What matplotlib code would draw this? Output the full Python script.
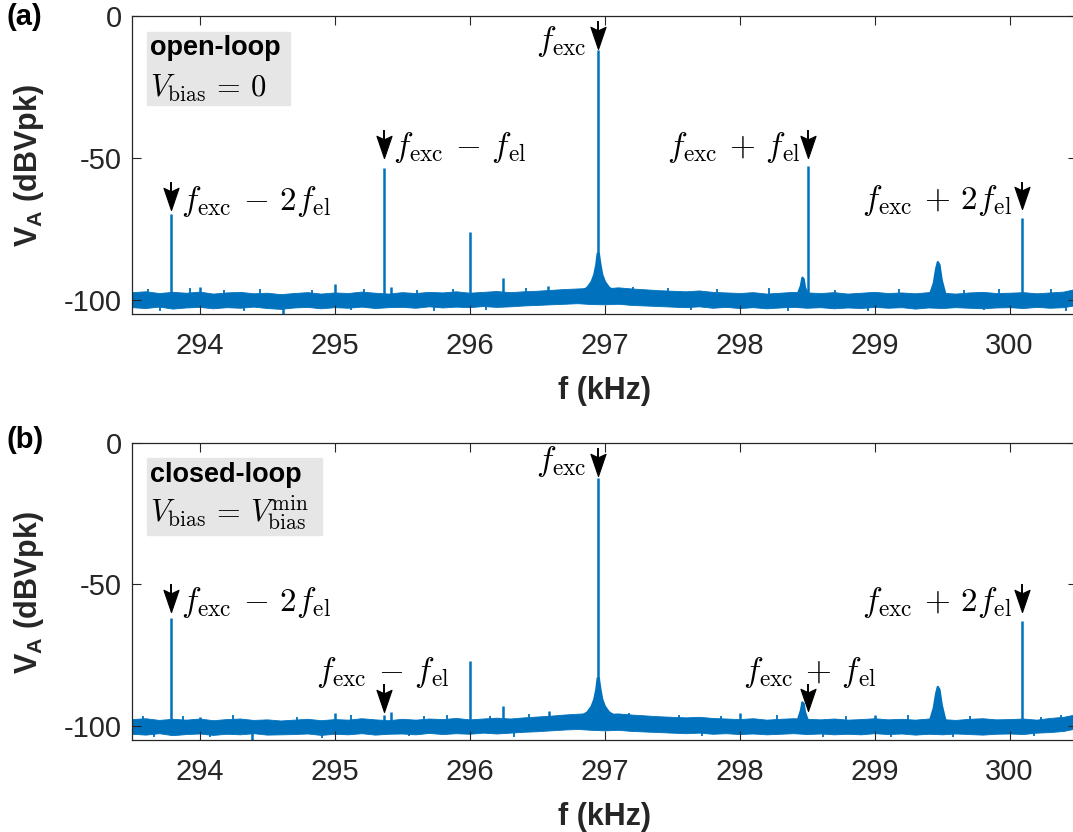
import numpy as np
import matplotlib
matplotlib.use("Agg")
from matplotlib import pyplot as plt
from matplotlib.path import Path
from matplotlib.patches import Rectangle

plt.rcParams['font.family'] = ['Liberation Sans', 'DejaVu Sans']
plt.rcParams['axes.unicode_minus'] = False
plt.rcParams['mathtext.fontset'] = 'custom'
plt.rcParams['mathtext.rm'] = 'Liberation Sans:bold'
plt.rcParams['mathtext.it'] = 'Liberation Sans:bold'
plt.rcParams['mathtext.bf'] = 'Liberation Sans:bold'

BLUE = '#0072BD'
DARK = '#262626'

# noise floor envelope, sampled every 0.1 kHz from 293.5 to 300.5
grid_f = np.round(np.arange(293.5, 300.51, 0.1), 1)

up_a = [-97.3, -97.0, -97.6, -97.2, -97.5, -97.1, -97.8, -97.4, -97.2, -97.7,
        -97.5, -98.0, -97.6, -97.3, -97.8, -97.4, -97.6, -97.1, -97.5, -97.8,
        -97.3, -97.6, -97.2, -97.4, -97.0, -97.5, -97.2, -96.9, -97.3, -97.0,
        -96.8, -96.5, -96.2, -96.0, -95.8, -96.0, -95.6, -96.0, -96.3, -96.6,
        -96.8, -97.0, -96.7, -97.2, -97.4, -97.6, -97.3, -97.8, -97.5, -97.2,
        -97.4, -97.6, -97.3, -97.8, -97.5, -97.2, -97.6, -97.4, -97.7, -97.3,
        -97.5, -97.8, -97.4, -97.2, -97.6, -97.5, -97.3, -97.7, -97.4, -97.1, -96.0]
lo_a = [-102.6, -102.9, -102.4, -103.1, -102.7, -102.5, -103.0, -102.6, -102.8, -102.4,
        -102.9, -103.2, -102.7, -102.5, -103.0, -102.6, -102.8, -102.4, -102.9, -102.6,
        -102.5, -102.8, -102.3, -102.7, -102.4, -102.6, -102.2, -102.5, -102.3, -102.0,
        -101.8, -101.6, -101.4, -101.2, -101.5, -101.6, -101.4, -101.8, -102.0, -102.2,
        -102.4, -102.6, -102.3, -102.8, -102.5, -102.9, -102.6, -103.0, -102.7, -102.5,
        -102.8, -102.6, -103.0, -102.7, -102.9, -102.5, -102.8, -102.6, -103.1, -102.7,
        -102.9, -102.6, -102.8, -103.0, -102.7, -102.6, -102.9, -102.5, -102.8, -102.6, -101.8]

up_b = [-97.6, -97.3, -97.9, -97.5, -97.8, -97.4, -98.0, -97.6, -97.4, -97.9,
        -97.7, -98.1, -97.8, -97.5, -98.0, -97.6, -97.8, -97.3, -97.7, -98.0,
        -97.5, -97.8, -97.4, -97.6, -97.2, -97.7, -97.4, -97.1, -97.4, -97.0,
        -96.7, -96.4, -96.0, -95.7, -95.5, -95.8, -95.6, -96.0, -96.3, -96.6,
        -96.8, -97.0, -96.8, -97.2, -97.4, -97.6, -97.3, -97.8, -97.5, -97.3,
        -97.5, -97.7, -97.4, -97.8, -97.6, -97.3, -97.7, -97.5, -97.8, -97.4,
        -97.6, -97.9, -97.5, -97.3, -97.7, -97.6, -97.4, -97.8, -97.2, -96.8, -95.8]
lo_b = [-102.8, -103.1, -102.6, -103.3, -102.9, -102.7, -103.2, -102.8, -103.0, -102.6,
        -103.1, -103.0, -102.9, -102.7, -103.2, -102.8, -103.0, -102.6, -103.1, -102.8,
        -102.7, -103.0, -102.5, -102.9, -102.6, -102.8, -102.4, -102.7, -102.4, -102.1,
        -101.9, -101.6, -101.3, -101.1, -101.4, -101.6, -101.4, -101.8, -102.0, -102.2,
        -102.4, -102.6, -102.4, -102.8, -102.6, -102.9, -102.7, -103.0, -102.8, -102.6,
        -102.9, -102.7, -103.0, -102.8, -103.0, -102.6, -102.9, -102.7, -103.1, -102.8,
        -103.0, -102.7, -102.9, -103.1, -102.8, -102.7, -102.9, -102.4, -102.2, -101.8, -100.8]

# discrete lines (kHz, dBVpk); floor level -100
spk_a_f = [293.79, 294.00, 294.62, 295.00, 295.37, 295.42, 296.00, 296.25, 296.58, 296.95, 298.51, 300.09]
spk_a_db = [-69.8, -95.5, -105.0, -94.5, -53.6, -95.5, -76.0, -92.3, -95.0, -12.0, -53.0, -71.0]
spk_b_f = [293.79, 294.00, 294.39, 295.00, 295.37, 295.42, 296.00, 296.25, 296.59, 296.95, 298.00, 299.00, 300.09]
spk_b_db = [-61.8, -97.0, -105.0, -95.5, -96.0, -95.0, -77.0, -93.0, -94.6, -12.5, -95.5, -96.0, -63.0]

# small noise excursions on the floor (up and down)
nz_a_f = [293.62, 293.93, 294.18, 294.45, 294.83, 295.22, 295.61, 295.88, 296.42, 297.21,
          297.47, 297.83, 298.22, 298.71, 299.18, 299.66, 299.92, 300.31,
          293.71, 294.33, 295.12, 295.74, 296.12, 297.64, 298.36, 298.95, 299.81, 300.42]
nz_a_db = [-96.2, -96.0, -96.5, -96.3, -96.6, -96.1, -96.4, -96.2, -95.8, -95.4,
           -95.9, -96.3, -96.0, -96.4, -96.2, -96.5, -96.1, -96.3,
           -103.8, -104.0, -103.6, -103.9, -103.5, -103.7, -104.1, -103.8, -103.6, -103.9]
nz_b_f = [293.58, 293.88, 294.25, 294.72, 295.12, 295.66, 295.83, 296.15, 296.44, 297.18,
          297.55, 297.86, 298.28, 298.79, 299.25, 299.71, 300.23, 300.38,
          293.66, 294.08, 294.91, 295.55, 296.33, 297.72, 298.62, 299.12, 299.58, 300.18]
nz_b_db = [-96.4, -96.6, -96.3, -96.8, -96.2, -96.5, -96.1, -96.4, -95.7, -95.6,
           -96.1, -96.4, -96.3, -96.6, -96.2, -96.5, -96.7, -96.0,
           -104.0, -103.8, -104.2, -103.7, -103.9, -103.6, -104.0, -103.8, -104.1, -103.7]

# broad resonances
res_f = [296.82, 296.87, 296.90, 296.92, 296.935, 296.945, 296.955, 296.965, 296.98, 297.00, 297.03, 297.08]
res_a_db = [-97.0, -95.5, -93.5, -91.0, -87.5, -83.5, -83.5, -87.0, -91.0, -93.5, -95.5, -97.0]
res_b_db = [-96.5, -95.0, -93.0, -90.5, -87.0, -83.0, -83.0, -86.5, -90.5, -93.0, -95.0, -96.5]
sb1_f = [298.43, 298.45, 298.462, 298.472, 298.482, 298.50]
sb1_a_db = [-97.5, -95.0, -92.0, -92.5, -95.5, -97.5]
sb1_b_db = [-97.5, -94.5, -91.5, -92.0, -95.0, -97.5]
sb2_f = [299.41, 299.435, 299.452, 299.465, 299.478, 299.495, 299.52]
sb2_a_db = [-97.5, -94.0, -89.0, -86.5, -87.5, -93.0, -97.5]
sb2_b_db = [-97.5, -93.5, -88.5, -86.0, -87.0, -92.5, -97.5]

m_lab = [r'$f_\mathrm{exc}\,-\,2f_\mathrm{el}$', r'$f_\mathrm{exc}\,-\,f_\mathrm{el}$', r'$f_\mathrm{exc}$',
         r'$f_\mathrm{exc}\,+\,f_\mathrm{el}$', r'$f_\mathrm{exc}\,+\,2f_\mathrm{el}$']
m_f = [293.79, 295.37, 296.95, 298.51, 300.09]
# arrow tip / tail levels
tip_a = [-68.4, -50.0, -11.5, -50.0, -68.0]
tail_a = [-58.8, -40.5, -2.0, -40.5, -59.0]
tip_b = [-59.7, -95.0, -11.5, -94.7, -59.7]
tail_b = [-50.2, -85.5, -2.0, -85.5, -50.2]
# label anchors
lab_a = [(293.86, -65.5, 'left'), (295.43, -46.5, 'left'), (296.87, -9.0, 'right'),
         (298.45, -46.5, 'right'), (300.02, -65.0, 'right')]
lab_b = [(293.86, -56.5, 'left'), (295.36, -81.0, 'center'), (296.87, -6.5, 'right'),
         (298.52, -81.0, 'center'), (300.02, -56.5, 'right')]

head = Path([(0, 0), (-0.34, 1), (0, 0.84), (0.34, 1), (0, 0)],
            [Path.MOVETO, Path.LINETO, Path.LINETO, Path.LINETO, Path.CLOSEPOLY])

W, H = 1073, 832
fig = plt.figure(figsize=(W / 100, H / 100), dpi=100)


def px(x, y):
    return x / W, 1 - y / H


def draw_panel(ax, up, lo, sf, sdb, nf, ndb, rdb, s1, s2, tips, tails, labs):
    ax.fill_between(grid_f, lo, up, color=BLUE, lw=0.6)
    ax.vlines(nf, -100, ndb, color=BLUE, lw=1.3)
    ax.vlines(sf, -100, sdb, color=BLUE, lw=1.8)
    for f, d in [(res_f, rdb), (sb1_f, s1), (sb2_f, s2)]:
        ax.fill_between(f, -100, d, color=BLUE, lw=1.5)
    for f, t, tl, txt, (lx, ly, ha) in zip(m_f, tips, tails, m_lab, labs):
        ax.plot([f, f], [t + 2, tl], color='k', lw=1.4, zorder=5)
        ax.plot(f, t, marker=head, ms=32, color='k', mec='k', mew=0.8, zorder=6)
        ax.text(lx, ly, txt, ha=ha, va='center', fontsize=24, math_fontfamily='cm', zorder=7)
    ax.set_xlim(293.5, 300.5)
    ax.set_ylim(-105, 0)
    ax.set_xticks([294, 295, 296, 297, 298, 299, 300])
    ax.set_yticks([-100, -50, 0])
    ax.set_yticklabels(['-100', '-50', '0'])
    ax.tick_params(direction='in', length=6.5, width=0.8, top=True, right=True,
                   labelsize=21, colors=DARK)
    ax.tick_params(axis='x', pad=13)
    ax.tick_params(axis='y', pad=7.5)
    for s in ax.spines.values():
        s.set_color(DARK)
        s.set_linewidth(0.9)
    ax.set_xlabel('f (kHz)', fontsize=22, fontweight='bold', color=DARK)
    ax.xaxis.set_label_coords(0.5, -0.258)
    ax.xaxis.label.set_va('center')
    ax.set_ylabel(r'$\mathbf{V_A}$ (dBVpk)', fontsize=22, fontweight='bold', color=DARK)
    ax.yaxis.set_label_coords(-0.1095, 0.497)
    ax.yaxis.label.set_va('center')


ax_a = fig.add_axes([132 / W, 1 - 314 / H, 945 / W, 298 / H])
ax_b = fig.add_axes([132 / W, 1 - 740 / H, 945 / W, 297 / H])
draw_panel(ax_a, up_a, lo_a, spk_a_f, spk_a_db, nz_a_f, nz_a_db, res_a_db, sb1_a_db, sb2_a_db,
           tip_a, tail_a, lab_a)
draw_panel(ax_b, up_b, lo_b, spk_b_f, spk_b_db, nz_b_f, nz_b_db, res_b_db, sb1_b_db, sb2_b_db,
           tip_b, tail_b, lab_b)

# condition boxes
for (x0, y0, x1, y1), t1, t2, yt1, yt2 in [
        ((147, 32, 290, 105), 'open-loop', r'$V_\mathrm{bias}\,=\,0$', 48, 88),
        ((147, 458, 322, 535), 'closed-loop', r'$V_\mathrm{bias}\,=\,V_\mathrm{bias}^\mathrm{min}$', 475, 513)]:
    fx, fy = px(x0, y1)
    fig.patches.append(Rectangle((fx, fy), (x1 - x0) / W, (y1 - y0) / H,
                                 transform=fig.transFigure, color='#e6e6e6', zorder=3))
    fig.text(*px(150, yt1), t1, fontsize=19.5, fontweight='bold', va='center', zorder=4)
    fig.text(*px(150, yt2), t2, fontsize=22, math_fontfamily='cm', va='center', zorder=4)

fig.text(*px(7, 17), '(a)', fontsize=21, fontweight='bold', va='center')
fig.text(*px(7, 440), '(b)', fontsize=21, fontweight='bold', va='center')

fig.savefig('out.png', dpi=100)
